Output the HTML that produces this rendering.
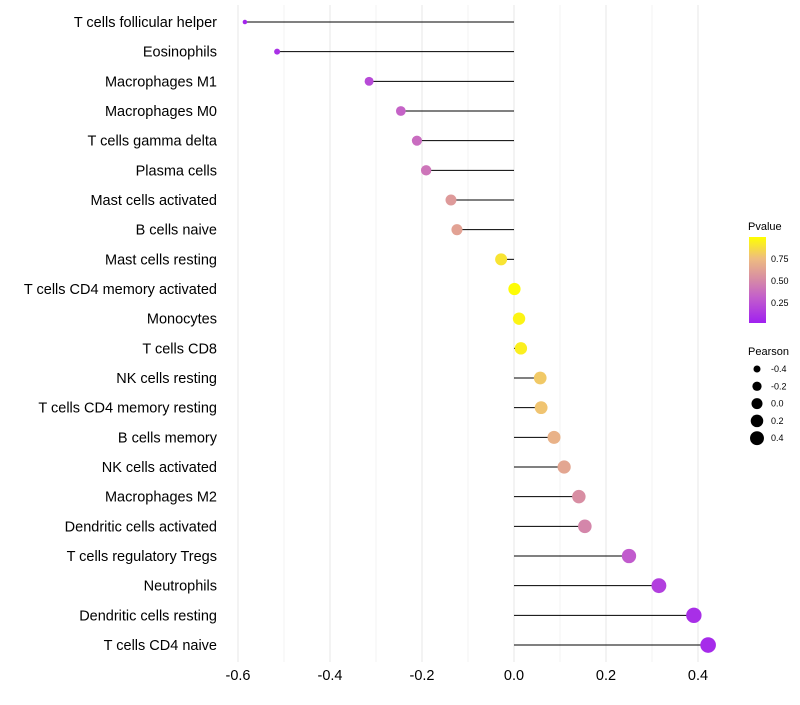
<!DOCTYPE html>
<html><head><meta charset="utf-8"><style>
body{margin:0;background:#fff;font-family:"Liberation Sans",sans-serif;}
</style></head><body>
<svg id="chart" width="800" height="700" xmlns="http://www.w3.org/2000/svg">
<defs><linearGradient id="pg" x1="0" y1="1" x2="0" y2="0">
<stop offset="0" stop-color="#a020f0"/><stop offset="0.3" stop-color="#c35fcb"/><stop offset="0.5" stop-color="#d68aa6"/><stop offset="0.75" stop-color="#eebc80"/><stop offset="1" stop-color="#ffff00"/></linearGradient></defs>
<g id="grid"></g><g id="marks"></g><g id="labels"></g><g id="xticks"></g>
<g>
<text x="748" y="230" font-size="11" fill="#000">Pvalue</text>
<rect x="749" y="237" width="17" height="86" fill="url(#pg)"/>
<text x="771" y="262" font-size="9">0.75</text><text x="771" y="284" font-size="9">0.50</text><text x="771" y="306" font-size="9">0.25</text>
</g>
<g id="sizeLegend"><text x="748" y="355" font-size="11">Pearson</text></g>
</svg>
<script>
const categories=["T cells follicular helper","Eosinophils","Macrophages M1","Macrophages M0","T cells gamma delta","Plasma cells","Mast cells activated","B cells naive","Mast cells resting","T cells CD4 memory activated","Monocytes","T cells CD8","NK cells resting","T cells CD4 memory resting","B cells memory","NK cells activated","Macrophages M2","Dendritic cells activated","T cells regulatory  Tregs ","Neutrophils","Dendritic cells resting","T cells CD4 naive"];
const pearson=[-0.585,-0.515,-0.315,-0.246,-0.211,-0.191,-0.137,-0.124,-0.028,0.001,0.011,0.015,0.057,0.059,0.087,0.109,0.141,0.154,0.25,0.315,0.391,0.422];
const pvalue=[0.03,0.08,0.2,0.32,0.36,0.4,0.58,0.62,0.9,0.99,0.96,0.94,0.8,0.78,0.7,0.64,0.52,0.48,0.28,0.15,0.07,0.05];
const xTicks=[-0.6,-0.4,-0.2,0.0,0.2,0.4];
const xMinor=[-0.5,-0.3,-0.1,0.1,0.3];
const sizeLegend=[-0.4,-0.2,0.0,0.2,0.4];
const NS="http://www.w3.org/2000/svg";
const X=v=>514+v*460;
const Y=i=>22+i*29.667;
const R=v=>Math.sqrt(5+(v+0.585)/1.007*56);
const stops=[[0,[160,32,240]],[0.3,[195,95,203]],[0.5,[214,138,166]],[0.75,[238,188,128]],[1,[255,255,0]]];
function col(p){for(let i=1;i<stops.length;i++){if(p<=stops[i][0]){const a=stops[i-1],b=stops[i],t=(p-a[0])/(b[0]-a[0]);return 'rgb('+a[1].map((c,k)=>Math.round(c+(b[1][k]-c)*t)).join(',')+')';}}return 'rgb(255,255,0)';}
function mk(tag,at,parent){const e=document.createElementNS(NS,tag);for(const k in at)e.setAttribute(k,at[k]);parent.appendChild(e);return e;}
const grid=document.getElementById('grid'),marks=document.getElementById('marks'),labels=document.getElementById('labels'),xt=document.getElementById('xticks');
xMinor.forEach(v=>{const l=mk('line',{x1:X(v),x2:X(v),y1:5,y2:662,stroke:'#f3f3f3','stroke-width':1},grid);

});
xTicks.forEach(v=>{const l=mk('line',{x1:X(v),x2:X(v),y1:5,y2:662,stroke:'#ebebeb','stroke-width':1.2},grid);


const t=mk('text',{x:X(v),y:680,'font-size':14.5,'text-anchor':'middle',fill:'#000'},xt);t.textContent=v.toFixed(1);

});
categories.forEach((c,i)=>{const y=Y(i);
const t=mk('text',{x:217,y:y+5,'font-size':14.5,'text-anchor':'end',fill:'#000'},labels);t.textContent=c;


const s=mk('line',{x1:X(0),x2:X(pearson[i]),y1:y,y2:y,stroke:'#000','stroke-width':1},marks);


const p=mk('circle',{cx:X(pearson[i]),cy:y,r:R(pearson[i]),fill:col(pvalue[i])},marks);

});
const sl=document.getElementById('sizeLegend');
sizeLegend.forEach((v,i)=>{const y=369+i*17.3;
const c=mk('circle',{cx:757,cy:y,r:R(v)*0.9,fill:'#000'},sl);


const t=mk('text',{x:771,y:y+3,'font-size':9},sl);t.textContent=v.toFixed(1);

});
</script>
</body></html>
